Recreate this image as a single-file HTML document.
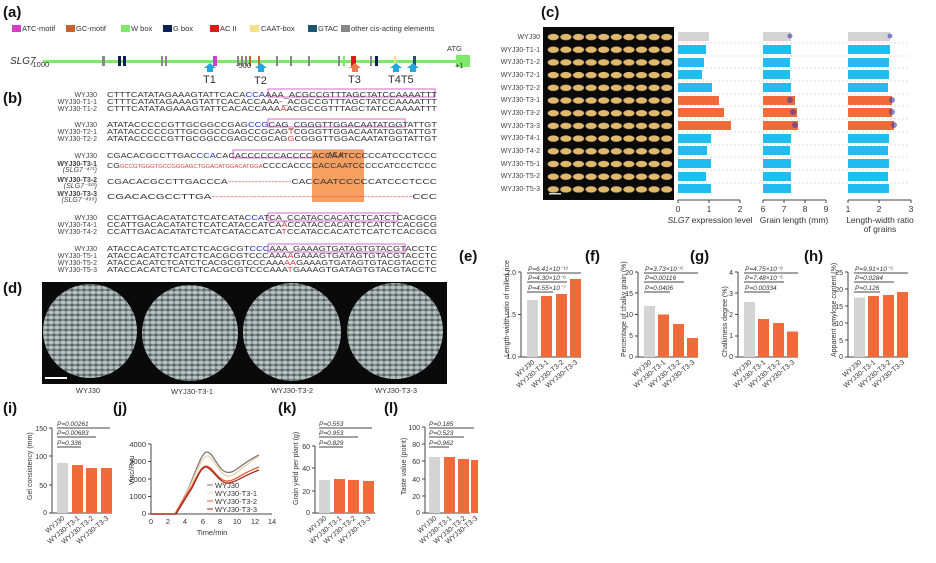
<!DOCTYPE html>
<html><head><meta charset="utf-8"><style>
html,body{margin:0;padding:0;background:#fff}
svg{display:block;font-family:"Liberation Sans",Arial,sans-serif}
.lb{font-weight:bold;font-size:15px;fill:#111}
.s{font-size:7.4px;fill:#333}
.n{font-size:7px;fill:#444;text-anchor:end}
.t{font-size:7.5px;fill:#333}
.ax{stroke:#444;stroke-width:1;fill:none}
.g{fill:#d4d4d4}.o{fill:#f06a3a}.b{fill:#22bdf0}
.p{font-size:6.5px;fill:#333;font-style:italic}
</style></head><body>
<svg width="936" height="563" viewBox="0 0 936 563">
<defs>
<pattern id="grain" x="547" y="31" width="12.6" height="12.7" patternUnits="userSpaceOnUse">
<ellipse cx="6.3" cy="6" rx="5.6" ry="3.2" fill="#e0b96f"/></pattern>
<pattern id="rice" width="6" height="5" patternUnits="userSpaceOnUse">
<rect width="6" height="5" fill="#5d6866"/><ellipse cx="3" cy="2.5" rx="2.8" ry="2" fill="#b4c1be"/></pattern>
</defs>
<!-- (a) -->
<text class="lb" x="3" y="17">(a)</text>
<g class="t">
<rect x="12" y="25" width="9" height="7" fill="#d23fc4"/><text x="22" y="31">ATC-motif</text>
<rect x="66" y="25" width="9" height="7" fill="#c8642a"/><text x="76" y="31">GC-motif</text>
<rect x="121" y="25" width="9" height="7" fill="#7de86a"/><text x="131" y="31">W box</text>
<rect x="163" y="25" width="9" height="7" fill="#0b1f5a"/><text x="173" y="31">G box</text>
<rect x="210" y="25" width="9" height="7" fill="#e01818"/><text x="220" y="31">AC II</text>
<rect x="250" y="25" width="9" height="7" fill="#f5e08a"/><text x="261" y="31">CAAT-box</text>
<rect x="308" y="25" width="9" height="7" fill="#1d5570"/><text x="318" y="31">GTAC</text>
<rect x="341" y="25" width="9" height="7" fill="#888"/><text x="351" y="31">other cis-acting elements</text>
</g>
<text x="10" y="64" style="font-size:10px;font-style:italic;fill:#333">SLG7</text>
<rect x="43" y="60" width="420" height="3" fill="#7de86a"/>
<rect x="456" y="55" width="14" height="12" fill="#7de86a"/>
<text x="447" y="51" class="t">ATG</text>
<g fill="#888">
<rect x="102" y="56" width="3" height="10"/><rect x="161" y="56" width="2" height="10"/><rect x="165" y="56" width="2" height="10"/>
<rect x="237" y="56" width="2" height="10"/><rect x="241" y="56" width="2" height="10"/><rect x="245" y="56" width="2" height="10"/>
<rect x="276" y="56" width="2" height="10"/><rect x="290" y="56" width="2" height="10"/><rect x="308" y="56" width="2" height="10"/>
<rect x="338" y="56" width="2" height="10"/><rect x="370" y="56" width="2" height="10"/></g>
<g fill="#0b1f5a"><rect x="118" y="56" width="3" height="10"/><rect x="123" y="56" width="3" height="10"/><rect x="375" y="56" width="3" height="10"/></g>
<rect x="213" y="56" width="4" height="10" fill="#d23fc4"/>
<rect x="249" y="56" width="2" height="10" fill="#c8642a"/><rect x="258" y="56" width="2" height="10" fill="#c8642a"/>
<rect x="343" y="56" width="2" height="10" fill="#7de86a"/>
<rect x="351" y="56" width="5" height="10" fill="#e01818"/>
<rect x="394" y="56" width="2" height="10" fill="#f5e08a"/>
<rect x="413" y="56" width="3" height="10" fill="#1d5570"/>
<g class="t"><text x="30" y="67">-1000</text><text x="236" y="68">-500</text><text x="455" y="68">+1</text></g>
<g fill="#22a7e0">
<polygon points="210,63 216,68 213,68 213,72 207,72 207,68 204,68"/>
<polygon points="261,63 267,68 264,68 264,72 258,72 258,68 255,68"/>
<polygon points="396,63 402,68 399,68 399,72 393,72 393,68 390,68"/>
<polygon points="413,63 419,68 416,68 416,72 410,72 410,68 407,68"/></g>
<polygon points="355,63 361,68 358,68 358,72 352,72 352,68 349,68" fill="#f07a4a"/>
<g style="font-size:11px;fill:#333"><text x="203" y="83">T1</text><text x="254" y="84">T2</text><text x="348" y="83">T3</text><text x="388" y="83">T4T5</text></g>
<!-- (b) -->
<text class="lb" x="3" y="103">(b)</text>
<g fill="none" stroke="#d23fc4" stroke-width="0.8">
<rect x="268" y="89" width="167" height="8"/><rect x="268" y="119" width="137" height="8"/>
<rect x="233" y="150" width="130" height="8"/><rect x="268" y="213" width="130" height="8"/><rect x="268" y="244" width="137" height="8"/></g>
<rect x="312" y="150" width="52" height="52" fill="#f5954f" opacity="0.9"/>
<text x="328" y="157" style="font-size:7px;fill:#333">AC II</text>
<g class="n">
<text x="97" y="97">WYJ30</text><text x="97" y="104">WYJ30-T1-1</text><text x="97" y="111">WYJ30-T1-2</text>
<text x="97" y="127">WYJ30</text><text x="97" y="134">WYJ30-T2-1</text><text x="97" y="141">WYJ30-T2-2</text>
<text x="97" y="158">WYJ30</text><text x="97" y="166" style="font-weight:bold">WYJ30-T3-1</text><text x="97" y="172" style="font-style:italic">(SLG7⁻⁴⁷¹)</text>
<text x="97" y="182" style="font-weight:bold">WYJ30-T3-2</text><text x="97" y="188" style="font-style:italic">(SLG7⁻³³³)</text>
<text x="97" y="196" style="font-weight:bold">WYJ30-T3-3</text><text x="97" y="202" style="font-style:italic">(SLG7⁻⁴⁹⁹)</text>
<text x="97" y="220">WYJ30</text><text x="97" y="227">WYJ30-T4-1</text><text x="97" y="234">WYJ30-T4-2</text>
<text x="97" y="251">WYJ30</text><text x="97" y="258">WYJ30-T5-1</text><text x="97" y="265">WYJ30-T5-2</text><text x="97" y="272">WYJ30-T5-3</text>
</g>
<g class="s">
<text x="107" y="97" textLength="330" lengthAdjust="spacingAndGlyphs">CTTTCATATAGAAAGTATTCACA<tspan fill="#2233cc">CCA</tspan>AAA_ACGCCGTTTAGCTATCCAAAATTT</text>
<text x="107" y="104" textLength="330" lengthAdjust="spacingAndGlyphs">CTTTCATATAGAAAGTATTCACACCAAA-_ACGCCGTTTAGCTATCCAAAATTT</text>
<text x="107" y="111" textLength="330" lengthAdjust="spacingAndGlyphs">CTTTCATATAGAAAGTATTCACACCAAA<tspan fill="#e04040">A</tspan>ACGCCGTTTAGCTATCCAAAATTT</text>
<text x="107" y="127" textLength="330" lengthAdjust="spacingAndGlyphs">ATATACCCCCGTTGCGGCCGAG<tspan fill="#2233cc">CCG</tspan>CAG_CGGGTTGGACAATATGGTATTGT</text>
<text x="107" y="134" textLength="330" lengthAdjust="spacingAndGlyphs">ATATACCCCCGTTGCGGCCGAGCCGCAG<tspan fill="#e04040">T</tspan>CGGGTTGGACAATATGGTATTGT</text>
<text x="107" y="141" textLength="330" lengthAdjust="spacingAndGlyphs">ATATACCCCCGTTGCGGCCGAGCCGCAG<tspan fill="#e04040">G</tspan>CGGGTTGGACAATATGGTATTGT</text>
<text x="107" y="158" textLength="330" lengthAdjust="spacingAndGlyphs">CGACACGCCTTGAC<tspan fill="#2233cc">CCA</tspan>CACACCCCCCACCCCACCAATCCCCCATCCCTCCC</text>
<text x="107" y="168" textLength="330" lengthAdjust="spacingAndGlyphs">CG<tspan fill="#e04040" style="font-size:5px">GCCGTGGGTGCCGGGAGCTGGACATGGACATGGA</tspan>CCCCACCCCACCAATCCCCCATCCCTCCC</text>
<text x="107" y="184" textLength="330" lengthAdjust="spacingAndGlyphs">CGACACGCCTTGACCCA<tspan fill="#e04040">-------------------</tspan>CACCAATCCCCCATCCCTCCC</text>
<text x="107" y="199" textLength="330" lengthAdjust="spacingAndGlyphs">CGACACGCCTTGA<tspan fill="#e04040">-----------------------------------------------------</tspan>CCC</text>
<text x="107" y="220" textLength="330" lengthAdjust="spacingAndGlyphs">CCATTGACACATATCTCATCATA<tspan fill="#2233cc">CCA</tspan>TCA_CCATACCACATCTCATCTCACGCG</text>
<text x="107" y="227" textLength="330" lengthAdjust="spacingAndGlyphs">CCATTGACACATATCTCATCATACCATCA<tspan fill="#e04040">A</tspan>CCATACCACATCTCATCTCACGCG</text>
<text x="107" y="234" textLength="330" lengthAdjust="spacingAndGlyphs">CCATTGACACATATCTCATCATACCATCA<tspan fill="#e04040">T</tspan>CCATACCACATCTCATCTCACGCG</text>
<text x="107" y="251" textLength="330" lengthAdjust="spacingAndGlyphs">ATACCACATCTCATCTCACGCGT<tspan fill="#2233cc">CCC</tspan>AAA_GAAAGTGATAGTGTACGTACCTC</text>
<text x="107" y="258" textLength="330" lengthAdjust="spacingAndGlyphs">ATACCACATCTCATCTCACGCGTCCCAAA<tspan fill="#e04040">A</tspan>GAAAGTGATAGTGTACGTACCTC</text>
<text x="107" y="265" textLength="330" lengthAdjust="spacingAndGlyphs">ATACCACATCTCATCTCACGCGTCCCAAA<tspan fill="#e04040">AA</tspan>GAAAGTGATAGTGTACGTACCTC</text>
<text x="107" y="272" textLength="330" lengthAdjust="spacingAndGlyphs">ATACCACATCTCATCTCACGCGTCCCAAA<tspan fill="#e04040">T</tspan>GAAAGTGATAGTGTACGTACCTC</text>
</g>
<!-- (d) -->
<text class="lb" x="3" y="293">(d)</text>
<rect x="42" y="282" width="405" height="102" fill="#0a0a0a"/>
<circle cx="90" cy="331" r="47" fill="url(#rice)"/>
<circle cx="190" cy="333" r="48" fill="url(#rice)"/>
<circle cx="292" cy="332" r="49" fill="url(#rice)"/>
<circle cx="395" cy="331" r="48" fill="url(#rice)"/>
<rect x="45" y="377" width="22" height="2" fill="#fff"/>
<g class="t" text-anchor="middle" style="font-size:7.5px"><text x="88" y="393">WYJ30</text><text x="192" y="394">WYJ30-T3-1</text><text x="292" y="393">WYJ30-T3-2</text><text x="396" y="393">WYJ30-T3-3</text></g>
<!-- (c) -->
<text class="lb" x="541" y="17">(c)</text>
<rect x="543" y="27" width="131" height="173" fill="#0a0a0a"/>
<rect x="547" y="31" width="126" height="165" fill="url(#grain)"/>
<rect x="549" y="193" width="12" height="1.5" fill="#ddd"/>
<g class="n">
<text x="540" y="39">WYJ30</text><text x="540" y="52">WYJ30-T1-1</text><text x="540" y="64">WYJ30-T1-2</text><text x="540" y="77">WYJ30-T2-1</text><text x="540" y="90">WYJ30-T2-2</text><text x="540" y="102">WYJ30-T3-1</text><text x="540" y="115">WYJ30-T3-2</text><text x="540" y="128">WYJ30-T3-3</text><text x="540" y="140">WYJ30-T4-1</text><text x="540" y="153">WYJ30-T4-2</text><text x="540" y="166">WYJ30-T5-1</text><text x="540" y="178">WYJ30-T5-2</text><text x="540" y="191">WYJ30-T5-3</text>
</g>
<g stroke="#bbb" stroke-dasharray="2,2" stroke-width="0.6">
<line x1="678" y1="43" x2="910" y2="43"/><line x1="678" y1="56" x2="910" y2="56"/><line x1="678" y1="68" x2="910" y2="68"/><line x1="678" y1="81" x2="910" y2="81"/><line x1="678" y1="94" x2="910" y2="94"/><line x1="678" y1="106" x2="910" y2="106"/><line x1="678" y1="119" x2="910" y2="119"/><line x1="678" y1="132" x2="910" y2="132"/><line x1="678" y1="145" x2="910" y2="145"/><line x1="678" y1="157" x2="910" y2="157"/><line x1="678" y1="170" x2="910" y2="170"/><line x1="678" y1="183" x2="910" y2="183"/></g>
<g>
<rect class="g" x="678" y="32" width="31" height="9"/>
<rect class="b" x="678" y="45" width="28" height="9"/><rect class="b" x="678" y="58" width="26" height="9"/><rect class="b" x="678" y="70" width="24" height="9"/><rect class="b" x="678" y="83" width="34" height="9"/>
<rect class="o" x="678" y="96" width="41" height="9"/><rect class="o" x="678" y="108" width="46" height="9"/><rect class="o" x="678" y="121" width="53" height="9"/>
<rect class="b" x="678" y="134" width="33" height="9"/><rect class="b" x="678" y="146" width="29" height="9"/><rect class="b" x="678" y="159" width="33" height="9"/><rect class="b" x="678" y="172" width="28" height="9"/><rect class="b" x="678" y="184" width="33" height="9"/>
</g>
<g>
<rect class="g" x="763" y="32" width="28" height="9"/>
<rect class="b" x="763" y="45" width="28" height="9"/><rect class="b" x="763" y="58" width="27" height="9"/><rect class="b" x="763" y="70" width="27" height="9"/><rect class="b" x="763" y="83" width="28" height="9"/>
<rect class="o" x="763" y="96" width="32" height="9"/><rect class="o" x="763" y="108" width="34" height="9"/><rect class="o" x="763" y="121" width="35" height="9"/>
<rect class="b" x="763" y="134" width="28" height="9"/><rect class="b" x="763" y="146" width="27" height="9"/><rect class="b" x="763" y="159" width="28" height="9"/><rect class="b" x="763" y="172" width="28" height="9"/><rect class="b" x="763" y="184" width="28" height="9"/>
</g>
<g>
<rect class="g" x="848" y="32" width="42" height="9"/>
<rect class="b" x="848" y="45" width="42" height="9"/><rect class="b" x="848" y="58" width="41" height="9"/><rect class="b" x="848" y="70" width="41" height="9"/><rect class="b" x="848" y="83" width="40" height="9"/>
<rect class="o" x="848" y="96" width="44" height="9"/><rect class="o" x="848" y="108" width="44" height="9"/><rect class="o" x="848" y="121" width="46" height="9"/>
<rect class="b" x="848" y="134" width="41" height="9"/><rect class="b" x="848" y="146" width="40" height="9"/><rect class="b" x="848" y="159" width="41" height="9"/><rect class="b" x="848" y="172" width="40" height="9"/><rect class="b" x="848" y="184" width="41" height="9"/>
</g>
<g fill="#3a3aa8">
<circle cx="790" cy="36" r="2.5" opacity=".6"/><circle cx="790" cy="100" r="3" opacity=".6"/><circle cx="793" cy="112" r="3" opacity=".6"/><circle cx="795" cy="125" r="3" opacity=".6"/>
<circle cx="890" cy="36" r="2.5" opacity=".6"/><circle cx="892" cy="100" r="3" opacity=".6"/><circle cx="892" cy="112" r="3" opacity=".6"/><circle cx="894" cy="125" r="3" opacity=".6"/></g>
<g class="ax"><path d="M678,200H740M678,200v3M709,200v3M740,200v3"/><path d="M763,200H826M763,200v3M784,200v3M805,200v3M826,200v3"/><path d="M848,200H911M848,200v3M879,200v3M911,200v3"/></g>
<g class="t" text-anchor="middle" style="font-size:8.5px">
<text x="678" y="212">0</text><text x="709" y="212">1</text><text x="740" y="212">2</text>
<text x="763" y="212">6</text><text x="784" y="212">7</text><text x="805" y="212">8</text><text x="826" y="212">9</text>
<text x="848" y="212">1</text><text x="879" y="212">2</text><text x="911" y="212">3</text>
<text x="710" y="223"><tspan font-style="italic">SLG7</tspan> expression level</text>
<text x="794" y="223">Grain length (mm)</text>
<text x="880" y="223">Length-width ratio</text><text x="880" y="232">of grains</text></g>
<!-- (e)-(h) -->
<text class="lb" x="459" y="261">(e)</text><text class="lb" x="585" y="261">(f)</text><text class="lb" x="690" y="261">(g)</text><text class="lb" x="804" y="261">(h)</text>
<g>
<path class="ax" d="M521,272V357H581M518,272h3M518,314.5h3M518,357h3"/>
<g class="t" text-anchor="end" style="font-size:7px"><text x="516" y="275">2.0</text><text x="516" y="317">1.5</text><text x="516" y="359">1.0</text></g>
<rect class="g" x="527" y="300" width="11" height="57"/><rect class="o" x="541" y="296" width="11" height="61"/><rect class="o" x="556" y="294" width="11" height="63"/><rect class="o" x="570" y="279" width="11" height="78"/>
<g class="p"><text x="528" y="271">P=6.41×10⁻¹³</text><text x="528" y="280">P=4.30×10⁻⁶</text><text x="528" y="290">P=4.55×10⁻⁷</text></g>
<path class="ax" d="M527,273H581M527,282H567M527,292H553"/>
<text transform="translate(509,357) rotate(-90)" class="t" style="font-size:7px">Length-width ratio of milled rice</text>
<path class="ax" d="M638,272V357H698M635,272h3M635,293h3M635,314.5h3M635,336h3M635,357h3"/>
<g class="t" text-anchor="end" style="font-size:7px"><text x="633" y="275">20</text><text x="633" y="296">15</text><text x="633" y="317">10</text><text x="633" y="338">5</text><text x="633" y="359">0</text></g>
<rect class="g" x="644" y="306" width="11" height="51"/><rect class="o" x="658" y="314.5" width="11" height="42.5"/><rect class="o" x="673" y="324" width="11" height="33"/><rect class="o" x="687" y="338" width="11" height="19"/>
<g class="p"><text x="645" y="271">P=3.73×10⁻⁶</text><text x="645" y="280">P=0.00116</text><text x="645" y="290">P=0.0406</text></g>
<path class="ax" d="M644,273H698M644,282H684M644,292H670"/>
<text transform="translate(626,357) rotate(-90)" class="t" style="font-size:7px">Percentage of chalky grain (%)</text>
<path class="ax" d="M738,272V357H798M735,272h3M735,293h3M735,314.5h3M735,336h3M735,357h3"/>
<g class="t" text-anchor="end" style="font-size:7px"><text x="733" y="275">4</text><text x="733" y="296">3</text><text x="733" y="317">2</text><text x="733" y="338">1</text><text x="733" y="359">0</text></g>
<rect class="g" x="744" y="302" width="11" height="55"/><rect class="o" x="758" y="319" width="11" height="38"/><rect class="o" x="773" y="323" width="11" height="34"/><rect class="o" x="787" y="331.5" width="11" height="25.5"/>
<g class="p"><text x="745" y="271">P=4.75×10⁻⁶</text><text x="745" y="280">P=7.48×10⁻⁵</text><text x="745" y="290">P=0.00334</text></g>
<path class="ax" d="M744,273H798M744,282H784M744,292H770"/>
<text transform="translate(727,357) rotate(-90)" class="t" style="font-size:7px">Chalkiness degree (%)</text>
<path class="ax" d="M848,272V357H908M845,272h3M845,289h3M845,306h3M845,323h3M845,340h3M845,357h3"/>
<g class="t" text-anchor="end" style="font-size:7px"><text x="843" y="275">25</text><text x="843" y="292">20</text><text x="843" y="309">15</text><text x="843" y="326">10</text><text x="843" y="343">5</text><text x="843" y="359">0</text></g>
<rect class="g" x="854" y="297.5" width="11" height="59.5"/><rect class="o" x="868" y="296" width="11" height="61"/><rect class="o" x="883" y="295" width="11" height="62"/><rect class="o" x="897" y="292" width="11" height="65"/>
<g class="p"><text x="855" y="271">P=9.91×10⁻⁵</text><text x="855" y="280">P=0.0284</text><text x="855" y="290">P=0.126</text></g>
<path class="ax" d="M854,273H908M854,282H894M854,292H880"/>
<text transform="translate(836,357) rotate(-90)" class="t" style="font-size:7px">Apparent amylose content (%)</text>
</g>
<g class="t" style="font-size:7px" text-anchor="end">
<text transform="translate(535,363) rotate(-40)">WYJ30</text><text transform="translate(549,363) rotate(-40)">WYJ30-T3-1</text><text transform="translate(564,363) rotate(-40)">WYJ30-T3-2</text><text transform="translate(578,363) rotate(-40)">WYJ30-T3-3</text>
<text transform="translate(652,363) rotate(-40)">WYJ30</text><text transform="translate(666,363) rotate(-40)">WYJ30-T3-1</text><text transform="translate(681,363) rotate(-40)">WYJ30-T3-2</text><text transform="translate(695,363) rotate(-40)">WYJ30-T3-3</text>
<text transform="translate(752,363) rotate(-40)">WYJ30</text><text transform="translate(766,363) rotate(-40)">WYJ30-T3-1</text><text transform="translate(781,363) rotate(-40)">WYJ30-T3-2</text><text transform="translate(795,363) rotate(-40)">WYJ30-T3-3</text>
<text transform="translate(862,363) rotate(-40)">WYJ30</text><text transform="translate(876,363) rotate(-40)">WYJ30-T3-1</text><text transform="translate(891,363) rotate(-40)">WYJ30-T3-2</text><text transform="translate(905,363) rotate(-40)">WYJ30-T3-3</text>
</g>
<!-- (i) -->
<text class="lb" x="3" y="413">(i)</text><text class="lb" x="113" y="413">(j)</text><text class="lb" x="278" y="413">(k)</text><text class="lb" x="384" y="413">(l)</text>
<path class="ax" d="M52,428V513H112M49,428h3M49,456h3M49,485h3M49,513h3"/>
<g class="t" text-anchor="end" style="font-size:7px"><text x="47" y="431">150</text><text x="47" y="459">100</text><text x="47" y="488">50</text><text x="47" y="515">0</text></g>
<rect class="g" x="57" y="463" width="11" height="50"/><rect class="o" x="72" y="465" width="11" height="48"/><rect class="o" x="86" y="468" width="11" height="45"/><rect class="o" x="101" y="468" width="11" height="45"/>
<g class="p"><text x="57" y="426">P=0.00261</text><text x="57" y="435">P=0.00683</text><text x="57" y="445">P=0.336</text></g>
<path class="ax" d="M57,428H110M57,437H96M57,447H81"/>
<text transform="translate(32,500) rotate(-90)" class="t" style="font-size:7px">Gel consistency (mm)</text>
<!-- (j) -->
<path class="ax" d="M151,444V514H272M148,444h3M148,461.5h3M148,479h3M148,496.5h3M148,514h3"/>
<g class="t" text-anchor="end" style="font-size:7.5px"><text x="146" y="447">4000</text><text x="146" y="464">3000</text><text x="146" y="482">2000</text><text x="146" y="499">1000</text><text x="146" y="516">0</text></g>
<g class="t" text-anchor="middle" style="font-size:7.5px"><text x="151" y="524">0</text><text x="168" y="524">2</text><text x="185" y="524">4</text><text x="203" y="524">6</text><text x="220" y="524">8</text><text x="237" y="524">10</text><text x="255" y="524">12</text><text x="272" y="524">14</text><text x="212" y="535">Time/min</text></g>
<text transform="translate(134,485) rotate(-90)" class="t" style="font-size:7.5px">Visc/Rvu</text>
<g fill="none" stroke-width="1.3">
<path stroke="#777" d="M151,514L175,514C180,505 188,490 192,480C197,468 202,452 207,452C213,452 218,470 226,472C234,475 240,464 259,455"/>
<path stroke="#f0d2a8" d="M151,514L175,514C180,505 188,490 192,482C197,470 202,457 207,456C213,456 218,472 226,476C234,478 240,468 259,456"/>
<path stroke="#e85a3a" d="M151,514L175,514C180,505 188,492 192,486C197,476 201,466 206,466C212,466 218,480 226,481C234,482 240,474 259,467"/>
<path stroke="#a02a1a" d="M151,514L176,514C181,506 188,494 192,488C197,478 201,467 206,467C212,468 218,481 226,483C234,484 242,476 259,470"/>
</g>
<g class="t" style="font-size:7.5px"><path d="M207,485h6" stroke="#777"/><text x="215" y="488">WYJ30</text><path d="M207,493h6" stroke="#f0d2a8"/><text x="215" y="496">WYJ30-T3-1</text><path d="M207,501h6" stroke="#e85a3a"/><text x="215" y="504">WYJ30-T3-2</text><path d="M207,509h6" stroke="#a02a1a"/><text x="215" y="512">WYJ30-T3-3</text></g>
<!-- (k) -->
<path class="ax" d="M315,446V513H375M312,446h3M312,468h3M312,491h3M312,513h3"/>
<g class="t" text-anchor="end" style="font-size:7px"><text x="310" y="449">60</text><text x="310" y="471">40</text><text x="310" y="494">20</text><text x="310" y="515">0</text></g>
<rect class="g" x="319" y="480" width="11" height="33"/><rect class="o" x="334" y="479" width="11" height="34"/><rect class="o" x="348" y="480" width="11" height="33"/><rect class="o" x="363" y="481" width="11" height="32"/>
<g class="p"><text x="319" y="426">P=0.553</text><text x="319" y="435">P=0.953</text><text x="319" y="445">P=0.829</text></g>
<path class="ax" d="M319,428H372M319,437H358M319,447H343"/>
<text transform="translate(298,505) rotate(-90)" class="t" style="font-size:7px">Grain yield per plant (g)</text>
<!-- (l) -->
<path class="ax" d="M425,427V513H470M422,427h3M422,444h3M422,461h3M422,479h3M422,496h3M422,513h3"/>
<g class="t" text-anchor="end" style="font-size:7px"><text x="420" y="430">100</text><text x="420" y="447">80</text><text x="420" y="464">60</text><text x="420" y="482">40</text><text x="420" y="499">20</text><text x="420" y="515">0</text></g>
<rect class="g" x="429" y="457" width="11" height="56"/><rect class="o" x="444" y="457" width="11" height="56"/><rect class="o" x="458" y="459" width="11" height="54"/><rect class="o" x="471" y="460" width="7" height="53"/>
<g class="p"><text x="429" y="426">P=0.185</text><text x="429" y="435">P=0.523</text><text x="429" y="445">P=0.962</text></g>
<path class="ax" d="M429,428H474M429,437H464M429,447H449"/>
<text transform="translate(406,495) rotate(-90)" class="t" style="font-size:7px">Taste value (point)</text>
<g class="t" style="font-size:7px" text-anchor="end">
<text transform="translate(65,519) rotate(-40)">WYJ30</text><text transform="translate(80,519) rotate(-40)">WYJ30-T3-1</text><text transform="translate(94,519) rotate(-40)">WYJ30-T3-2</text><text transform="translate(109,519) rotate(-40)">WYJ30-T3-3</text>
<text transform="translate(327,519) rotate(-40)">WYJ30</text><text transform="translate(342,519) rotate(-40)">WYJ30-T3-1</text><text transform="translate(356,519) rotate(-40)">WYJ30-T3-2</text><text transform="translate(371,519) rotate(-40)">WYJ30-T3-3</text>
<text transform="translate(437,519) rotate(-40)">WYJ30</text><text transform="translate(452,519) rotate(-40)">WYJ30-T3-1</text><text transform="translate(466,519) rotate(-40)">WYJ30-T3-2</text><text transform="translate(478,519) rotate(-40)">WYJ30-T3-3</text>
</g>
</svg>
</body></html>
